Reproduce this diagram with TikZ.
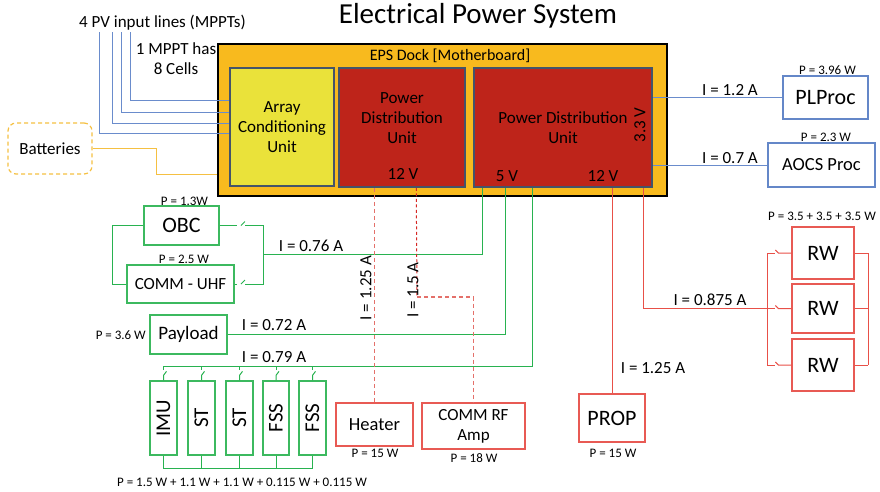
\documentclass[tikz,border=0pt]{standalone}
\usepackage{fontspec}
\setmainfont{Carlito}
\definecolor{dockorange}{RGB}{248,186,30}
\definecolor{acuyellow}{RGB}{234,226,58}
\definecolor{pdured}{RGB}{190,36,26}
\definecolor{unitedge}{RGB}{68,84,106}
\definecolor{pvblue}{RGB}{106,140,204}
\definecolor{boxblue}{RGB}{100,135,200}
\definecolor{gline}{RGB}{40,178,80}
\definecolor{gbox}{RGB}{60,185,95}
\definecolor{rline}{RGB}{232,80,72}
\definecolor{rbox}{RGB}{232,90,84}
\definecolor{rdash}{RGB}{228,112,106}
\definecolor{rdark}{RGB}{214,40,36}
\definecolor{battc}{RGB}{245,192,66}
\begin{document}
\begin{tikzpicture}[x=1pt,y=-1pt]
\tikzset{
 fs/.style={font=\fontsize{#1}{20}\selectfont},
 sz/.style args={#1x#2}{minimum width=#1pt, minimum height=#2pt},
 unit/.style={draw=unitedge, line width=1.5pt, inner sep=0pt, align=center},
 gbx/.style={draw=gbox, line width=1.3pt, fill=white, inner sep=0pt, align=center},
 rbx/.style={draw=rbox, line width=1.3pt, fill=white, inner sep=0pt, align=center},
 bbx/.style={draw=boxblue, line width=1.3pt, fill=white, inner sep=0pt, align=center},
 gw/.style={draw=gline, line width=1pt},
 rl/.style={draw=rline, line width=1pt},
 pvw/.style={draw=pvblue, line width=1pt},
 hdash/.style={draw=rdash, line width=1.4pt, dash pattern=on 4pt off 3pt},
 rdk/.style={draw=rdark, line width=1pt, dash pattern=on 3pt off 2.5pt},
 lbl/.style={fs=17, inner sep=0pt},
 sml/.style={fs=13, inner sep=0pt},
}
\useasboundingbox (0,0) rectangle (880,491);

% title
\node[fs=29, inner sep=0pt] (title) at (478,16) {Electrical Power System};

% EPS dock
\node[draw=black, fill=dockorange, line width=1.5pt, sz=449x152, inner sep=0pt] (dock) at (442.5,120) {};
\node[fs=16, inner sep=0pt] (docktxt) at (450,56) {EPS Dock [Motherboard]};
\node[unit, fill=acuyellow, sz=104x118, fs=17] (acu) at (282,127) {Array\\Conditioning\\Unit};
\node[unit, fill=pdured, sz=126x119] (pdu1) at (402,127.5) {};
\node[lbl, align=center] (pdu1txt) at (402,118) {Power\\Distribution\\Unit};
\node[lbl] (pdu1v) at (403,174) {12 V};
\node[unit, fill=pdured, sz=178x119] (pdu2) at (563,127.5) {};
\node[lbl, align=center] (pdu2txt) at (563,128) {Power Distribution\\Unit};
\node[lbl, rotate=90] (pdu2v3) at (640,125) {3.3 V};
\node[lbl] (pdu2v5) at (507,176) {5 V};
\node[lbl] (pdu2v12) at (603,176) {12 V};

% PV inputs
\node[lbl] (pvtxt) at (162.5,23) {4 PV input lines (MPPTs)};
\node[lbl, align=center] (mppt) at (176,59) {1 MPPT has\\8 Cells};
\coordinate (pv1) at (130,32);
\coordinate (pv2) at (121,32);
\coordinate (pv3) at (112,32);
\coordinate (pv4) at (99,32);
\draw[pvw] (pv1) |- (acu.west |- 0,100);
\draw[pvw] (pv2) |- (acu.west |- 0,112);
\draw[pvw] (pv3) |- (acu.west |- 0,123);
\draw[pvw] (pv4) |- (acu.west |- 0,133);

% batteries
\node[draw=battc, line width=1.2pt, dash pattern=on 4pt off 3pt, rounded corners=8pt, sz=84x51, fs=17, inner sep=0pt] (batt) at (50,148.5) {Batteries};
\draw[draw=battc, line width=1pt] (batt.east) -- (156,148.5) -- (156,174) -- (dock.west |- 0,174);

% processors
\node[bbx, sz=85x43, fs=22] (plproc) at (825.5,97.5) {PLProc};
\node[sml] (plprocp) at (827.5,70) {P = 3.96 W};
\node[bbx, sz=107x44, fs=18.5] (aocs) at (821.5,165) {AOCS Proc};
\node[sml] (aocsp) at (826,137) {P = 2.3 W};
\draw[pvw] (pdu2.east |- plproc.west) -- (plproc.west);
\draw[pvw] (pdu2.east |- aocs.west) -- (aocs.west);
\node[lbl] (i12) at (730,90) {I = 1.2 A};
\node[lbl] (i07) at (730,158) {I = 0.7 A};

% OBC and COMM-UHF
\node[gbx, sz=75x39, fs=22] (obc) at (181.5,225.5) {OBC};
\node[sml] (obcp) at (184.5,201) {P = 1.3W};
\node[gbx, sz=107x38, fs=17] (uhf) at (180.5,284) {COMM - UHF};
\node[sml] (uhfp) at (184,259) {P = 2.5 W};
\draw[gw] (obc.west) -- (112,225.5) |- (uhf.west);
\coordinate (jL) at (263,254);
\draw[gw] (obc.east) -- (237,225.5);
\draw[gw] (241,225.5) -- (245,221.5);
\draw[gw] (245,225.5) -- (263,225.5) -- (263,284) -- (245,284);
\draw[gw] (241,284) -- (245,280);
\draw[gw] (237,284) -- (uhf.east);
\draw[gw] (jL) -| ([xshift=9pt]pdu2.south west);
\node[lbl] (i076) at (311,246) {I = 0.76 A};

% Payload
\node[gbx, sz=77x39, fs=19] (payload) at (188.5,334.5) {Payload};
\node[sml, anchor=east] (payp) at (146,335) {P = 3.6 W};
\draw[gw] (payload.east) -| ([xshift=32pt]pdu2.south west);
\node[lbl] (i072) at (274,325) {I = 0.72 A};

% sensors
\node[gbx, sz=27x74] (imu) at (163.5,418) {};
\node[gbx, sz=27x74] (st1) at (201.5,418) {};
\node[gbx, sz=27x74] (st2) at (239.5,418) {};
\node[gbx, sz=26x74] (fss1) at (276,418) {};
\node[gbx, sz=27x74] (fss2) at (312.5,418) {};
\node[fs=21, rotate=90, inner sep=0pt] (imut) at (imu.center) {IMU};
\node[fs=21, rotate=90, inner sep=0pt] (st1t) at (st1.center) {ST};
\node[fs=21, rotate=90, inner sep=0pt] (st2t) at (st2.center) {ST};
\node[fs=21, rotate=90, inner sep=0pt] (fss1t) at (fss1.center) {FSS};
\node[fs=21, rotate=90, inner sep=0pt] (fss2t) at (fss2.center) {FSS};
\coordinate (busL) at (163.5,366);
\draw[gw] (busL) -| ([xshift=59pt]pdu2.south west);
\node[lbl] (i079) at (274,357) {I = 0.79 A};
\foreach \b in {imu,st1,st2,fss1,fss2}{
  \draw[gw] (\b.north |- busL) -- ++(0,4);
  \draw[gw] (\b.north) -- ++(0,-5) -- ++(3,-4);
  \draw[gw] (\b.south) -- ++(0,13);
}
\draw[gw] (imu.south |- 0,468) -- (fss2.south |- 0,468);
\node[sml] (sensp) at (242,482) {P = 1.5 W + 1.1 W + 1.1 W + 0.115 W + 0.115 W};

% heater and RF amp
\node[rbx, sz=77x43, fs=18.5] (heater) at (374.5,424.5) {Heater};
\node[sml] (heatp) at (375,453) {P = 15 W};
\node[rbx, sz=103x46, fs=17] (rfamp) at (473.5,426) {COMM RF\\Amp};
\node[sml] (rfp) at (474,458) {P = 18 W};
\draw[hdash] (heater.north |- pdu1.south) -- (heater.north);
\coordinate (rfb) at (417,297);
\draw[rdk] ([xshift=78pt]pdu1.south west) -- (rfb);
\draw[hdash] (rfb) -| (rfamp.north);
\node[lbl, rotate=90] (i125h) at (366,288) {I = 1.25 A};
\node[lbl, rotate=90] (i15) at (413,290) {I = 1.5 A};

% PROP
\node[rbx, sz=66x48, fs=22] (prop) at (612,418) {PROP};
\node[sml] (propp) at (613,453) {P = 15 W};
\draw[rl] (prop.north |- pdu2.south) -- (prop.north);
\node[lbl] (i125p) at (653,368) {I = 1.25 A};

% RW
\node[rbx, sz=62x52, fs=22] (rw1) at (823,253) {RW};
\node[rbx, sz=62x49, fs=22] (rw2) at (823,308.5) {RW};
\node[rbx, sz=62x52, fs=22] (rw3) at (823,365) {RW};
\node[sml] (rwp) at (822,216) {P = 3.5 + 3.5 + 3.5 W};
\coordinate (rwbus) at (767,308.5);
\draw[rl] ([xshift=170pt]pdu2.south west) |- (rwbus);
\node[lbl] (i0875) at (710,300) {I = 0.875 A};
\draw[rl] (767,253) -- (767,365);
\draw[rl] (868,253) -- (868,365);
\foreach \r in {rw1,rw2,rw3}{
  \draw[rl] (\r.west) -- ++(-13,0) -- ++(-3,-3);
  \draw[rl] (767,0 |- \r.west) -- ++(8,0);
  \draw[rl] (\r.east) -- (868,0 |- \r.east);
}
\end{tikzpicture}
\end{document}
